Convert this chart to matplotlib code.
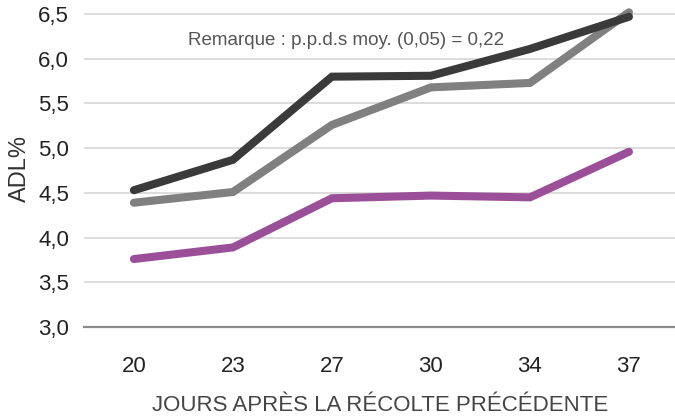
import matplotlib.pyplot as plt
import numpy as np

# data
jours = ["20", "23", "27", "30", "34", "37"]
serie_fonce = [4.53, 4.87, 5.80, 5.81, 6.11, 6.47]
serie_gris = [4.39, 4.51, 5.26, 5.68, 5.73, 6.52]
serie_violet = [3.76, 3.89, 4.44, 4.47, 4.45, 4.96]
y_ticks = [3.0, 3.5, 4.0, 4.5, 5.0, 5.5, 6.0, 6.5]

plt.rcParams['font.family'] = ['Liberation Sans', 'DejaVu Sans']

fig = plt.figure(figsize=(6.75, 4.18), dpi=100)
ax = fig.add_axes([0.125, 0.2177, 0.875, 0.7593])

x = np.arange(len(jours))
for vals, col in [(serie_violet, '#9c4f99'), (serie_gris, '#808080'), (serie_fonce, '#3a3a3a')]:
    ax.plot(x, vals, color=col, lw=5.8, solid_capstyle='round',
            solid_joinstyle='miter', clip_on=False, zorder=3)

ax.set_xlim(-0.5, 5.465)
ax.set_ylim(3.0, 6.55)
ax.set_yticks(y_ticks)
ax.set_yticklabels([f"{v:.1f}".replace('.', ',') for v in y_ticks])
ax.set_xticks(x)
ax.set_xticklabels(jours)
ax.tick_params(axis='both', length=0, labelsize=16, colors='#222222')
ax.tick_params(axis='y', pad=11)
ax.tick_params(axis='x', pad=21)

for v in y_ticks[1:]:
    ax.axhline(v, color='#d9d9d9', lw=1.3, zorder=1)
for s in ['top', 'right', 'left']:
    ax.spines[s].set_visible(False)
ax.spines['bottom'].set_color('#8a8a8a')
ax.spines['bottom'].set_linewidth(1.6)

ax.set_ylabel("ADL%", fontsize=17, color='#333333', labelpad=5)
ax.set_xlabel("JOURS APRÈS LA RÉCOLTE PRÉCÉDENTE", fontsize=16,
              color='#444444', labelpad=13,
              family=['Liberation Sans Narrow', 'Liberation Sans'])

ax.text(2.14, 6.21, "Remarque : p.p.d.s moy. (0,05) = 0,22", ha='center',
        va='center', fontsize=13.5, color='#555555')

fig.savefig("out.png", dpi=100)
